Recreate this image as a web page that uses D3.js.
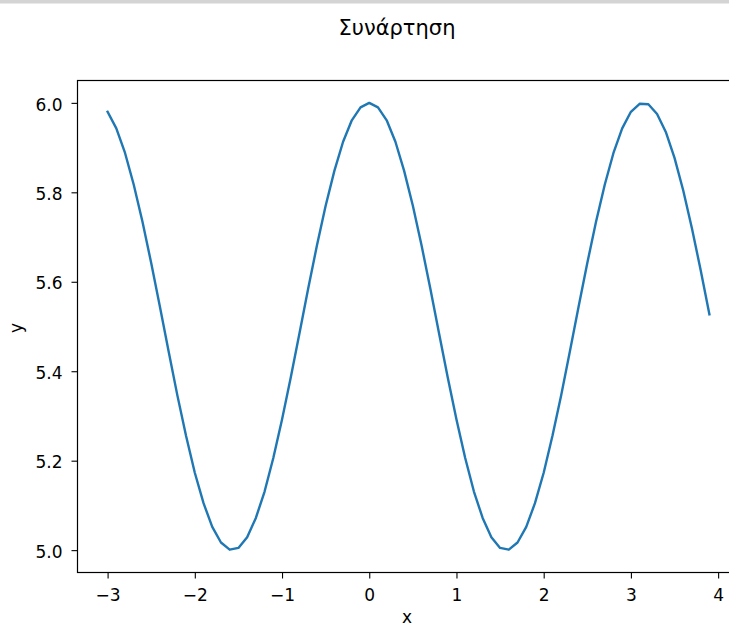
<!DOCTYPE html>
<html>
<head>
<meta charset="utf-8">
<script src="https://cdn.jsdelivr.net/npm/d3@7"></script>
<style>
  body { margin: 0; background: #fff; }
  svg { display: block; font-family: "DejaVu Sans", sans-serif; }
  .tick text { font-family: "DejaVu Sans", sans-serif; font-size: 17px; fill: #000; }
  .tick line { stroke: #000; stroke-width: 1.1; }
</style>
</head>
<body>
<div id="chart"></div>
<script>
const width = 729;
const height = 626;

// x values of the curve
const xValues = [
  -3.0, -2.9, -2.8, -2.7, -2.6, -2.5, -2.4, -2.3, -2.2, -2.1,
  -2.0, -1.9, -1.8, -1.7, -1.6, -1.5, -1.4, -1.3, -1.2, -1.1,
  -1.0, -0.9, -0.8, -0.7, -0.6, -0.5, -0.4, -0.3, -0.2, -0.1,
  0.0, 0.1, 0.2, 0.3, 0.4, 0.5, 0.6, 0.7, 0.8, 0.9,
  1.0, 1.1, 1.2, 1.3, 1.4, 1.5, 1.6, 1.7, 1.8, 1.9,
  2.0, 2.1, 2.2, 2.3, 2.4, 2.5, 2.6, 2.7, 2.8, 2.9,
  3.0, 3.1, 3.2, 3.3, 3.4, 3.5, 3.6, 3.7, 3.8, 3.9
];

// y values
const yValues = [
  5.980, 5.943, 5.888, 5.817, 5.734, 5.642, 5.544, 5.444, 5.346, 5.255,
  5.173, 5.105, 5.052, 5.017, 5.001, 5.005, 5.029, 5.072, 5.131, 5.206,
  5.292, 5.386, 5.485, 5.585, 5.681, 5.770, 5.848, 5.913, 5.961, 5.990,
  6.000, 5.990, 5.961, 5.913, 5.848, 5.770, 5.681, 5.585, 5.485, 5.386,
  5.292, 5.206, 5.131, 5.072, 5.029, 5.005, 5.001, 5.017, 5.052, 5.105,
  5.173, 5.255, 5.346, 5.444, 5.544, 5.642, 5.734, 5.817, 5.888, 5.943,
  5.980, 5.998, 5.997, 5.975, 5.935, 5.877, 5.804, 5.719, 5.626, 5.527
];

const xTicks = [-3, -2, -1, 0, 1, 2, 3, 4];
const yTicks = [5.0, 5.2, 5.4, 5.6, 5.8, 6.0];

const titleText = "Συνάρτηση";
const xLabel = "x";
const yLabel = "y";

const data = xValues.map((x, i) => ({ x: x, y: yValues[i] }));

// axes box (right edge falls outside the cropped picture)
const margin = { left: 77.5, top: 80.5, right: 739.5, bottom: 572.5 };

const svg = d3.select("#chart")
  .append("svg")
  .attr("width", width)
  .attr("height", height);

// grey strip along the top
svg.append("rect")
  .attr("x", 0).attr("y", 0)
  .attr("width", width).attr("height", 3.5)
  .attr("fill", "#d4d4d4");

const xMin = d3.min(xValues), xMax = d3.max(xValues);
const xPad = (xMax - xMin) * 0.05;
const yPad = (6.0 - 5.0) * 0.05;

const xScale = d3.scaleLinear()
  .domain([xMin - xPad, xMax + xPad])
  .range([margin.left, margin.right]);

const yScale = d3.scaleLinear()
  .domain([5.0 - yPad, 6.0 + yPad])
  .range([margin.bottom, margin.top]);

const minus = s => s.replace("-", "\u2212");

const bottomAxis = d3.axisBottom(xScale)
  .tickValues(xTicks)
  .tickSize(6)
  .tickPadding(10)
  .tickFormat(d => minus(d3.format("d")(d)));

const leftAxis = d3.axisLeft(yScale)
  .tickValues(yTicks)
  .tickSize(6)
  .tickPadding(9)
  .tickFormat(d3.format(".1f"));

svg.append("g")
  .attr("transform", `translate(0, ${margin.bottom})`)
  .call(bottomAxis)
  .call(g => g.select(".domain").remove());

svg.append("g")
  .attr("transform", `translate(${margin.left}, 0)`)
  .call(leftAxis)
  .call(g => g.select(".domain").remove())
  .call(g => g.selectAll(".tick text").attr("dy", "0.42em"));

// the line
const lineGenerator = d3.line()
  .x(d => xScale(d.x))
  .y(d => yScale(d.y));

svg.append("path")
  .attr("d", lineGenerator(data))
  .attr("fill", "none")
  .attr("stroke", "#1f77b4")
  .attr("stroke-width", 2.4)
  .attr("stroke-linejoin", "round")
  .attr("stroke-linecap", "square");

// frame
svg.append("rect")
  .attr("x", margin.left)
  .attr("y", margin.top)
  .attr("width", margin.right - margin.left)
  .attr("height", margin.bottom - margin.top)
  .attr("fill", "none")
  .attr("stroke", "#000")
  .attr("stroke-width", 1.2);

svg.append("text")
  .attr("x", 397)
  .attr("y", 35)
  .attr("text-anchor", "middle")
  .attr("font-size", 21)
  .text(titleText);

svg.append("text")
  .attr("x", 407)
  .attr("y", 623)
  .attr("text-anchor", "middle")
  .attr("font-size", 17)
  .text(xLabel);

svg.append("text")
  .attr("transform", "translate(22, 328) rotate(-90)")
  .attr("text-anchor", "middle")
  .attr("font-size", 17)
  .text(yLabel);
</script>
</body>
</html>
